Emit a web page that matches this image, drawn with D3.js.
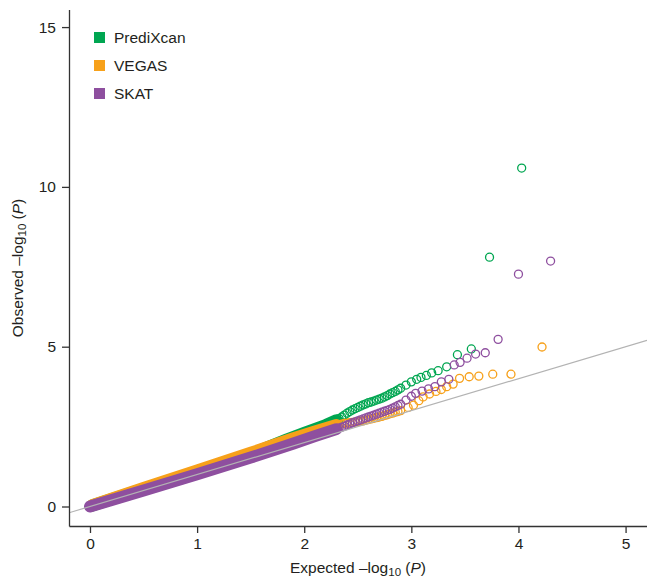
<!DOCTYPE html>
<html>
<head>
<meta charset="utf-8">
<script src="https://cdn.jsdelivr.net/npm/d3@7"></script>
<style>
  body { margin: 0; background: #fff; }
  svg text { font-family: "Liberation Sans", Arial, Helvetica, sans-serif; fill: #231f20; }
</style>
</head>
<body>
<div id="chart"></div>
<script>
const width = 647, height = 579;

// ---- data: [expected, observed] in -log10(P) ----
const seriesNames = ["PrediXcan", "VEGAS", "SKAT"];
const seriesColors = ["#00a651", "#f7a11a", "#8e4f9f"];

// dense lower part of each curve (drawn as a solid band of points)
const greenBulk = [[0.02, 0.03], [0.5, 0.56], [1.0, 1.1], [1.5, 1.64], [1.84, 2.1], [2.0, 2.3], [2.2, 2.55], [2.3, 2.7]];
const orangeBulk = [[0.02, 0.04], [0.5, 0.58], [1.0, 1.13], [1.5, 1.68], [1.9, 2.14], [2.1, 2.35], [2.3, 2.55]];
const purpleBulk = [[0, 0], [0.5, 0.5], [1.0, 1.01], [1.5, 1.53], [1.9, 1.97], [2.1, 2.2], [2.3, 2.42]];

// upper tail, individual open circles
const greenTail = [[2.300, 2.70], [2.325, 2.75], [2.350, 2.80], [2.375, 2.86], [2.400, 2.92], [2.425, 2.97],
  [2.450, 3.02], [2.475, 3.06], [2.500, 3.10], [2.525, 3.14], [2.550, 3.18], [2.575, 3.21], [2.600, 3.25],
  [2.625, 3.27], [2.650, 3.30], [2.675, 3.33], [2.700, 3.36], [2.725, 3.39], [2.750, 3.43], [2.775, 3.47],
  [2.800, 3.52], [2.825, 3.56], [2.850, 3.60], [2.875, 3.65], [2.900, 3.70], [2.95, 3.80], [3.00, 3.90],
  [3.05, 3.98], [3.09, 4.04], [3.14, 4.10], [3.19, 4.18], [3.25, 4.25], [3.33, 4.37], [3.43, 4.75], [3.56, 4.93],
  [3.73, 7.80], [4.03, 10.59]];
const orangeTail = [[2.300, 2.55], [2.325, 2.56], [2.350, 2.58], [2.375, 2.60], [2.400, 2.61], [2.425, 2.62],
  [2.450, 2.63], [2.475, 2.64], [2.500, 2.65], [2.525, 2.67], [2.550, 2.68], [2.575, 2.70], [2.600, 2.72],
  [2.625, 2.74], [2.650, 2.76], [2.675, 2.78], [2.700, 2.80], [2.725, 2.82], [2.750, 2.85], [2.775, 2.87],
  [2.800, 2.90], [2.825, 2.92], [2.850, 2.95], [2.875, 2.97], [2.900, 3.00], [2.97, 3.10], [3.02, 3.17],
  [3.07, 3.31], [3.11, 3.43], [3.17, 3.52], [3.23, 3.60], [3.28, 3.66], [3.33, 3.75], [3.39, 3.83], [3.45, 4.01],
  [3.54, 4.06], [3.63, 4.08], [3.76, 4.14], [3.93, 4.14], [4.22, 4.99]];
const purpleTail = [[2.300, 2.42], [2.325, 2.45], [2.350, 2.48], [2.375, 2.51], [2.400, 2.55], [2.425, 2.58],
  [2.450, 2.62], [2.475, 2.65], [2.500, 2.68], [2.525, 2.71], [2.550, 2.74], [2.575, 2.77], [2.600, 2.80],
  [2.625, 2.83], [2.650, 2.86], [2.675, 2.89], [2.700, 2.92], [2.725, 2.95], [2.750, 2.98], [2.775, 3.01],
  [2.800, 3.04], [2.825, 3.08], [2.850, 3.12], [2.875, 3.16], [2.900, 3.20], [2.95, 3.33], [3.00, 3.45],
  [3.04, 3.54], [3.10, 3.61], [3.16, 3.68], [3.22, 3.75], [3.28, 3.90], [3.35, 3.98], [3.40, 4.43], [3.455, 4.51],
  [3.52, 4.64], [3.60, 4.77], [3.69, 4.81], [3.81, 5.23], [4.00, 7.27], [4.30, 7.68]];

const xTicks = [0, 1, 2, 3, 4, 5];
const yTicks = [0, 5, 10, 15];

const svg = d3.select("#chart").append("svg")
  .attr("width", width)
  .attr("height", height);

// =========================
// SCALES
// =========================
const x = d3.scaleLinear().domain([-0.196, 5.2]).range([69, 647]);
const y = d3.scaleLinear().domain([-0.61, 15.55]).range([526, 9.5]);

svg.append("clipPath").attr("id", "plot-clip")
  .append("rect").attr("x", 69).attr("y", 9.5).attr("width", 647 - 69).attr("height", 526 - 9.5);

const plot = svg.append("g").attr("clip-path", "url(#plot-clip)");

// =========================
// POINTS
// =========================
const line = d3.line().x(d => x(d[0])).y(d => y(d[1]));
const bulks = [greenBulk, orangeBulk, purpleBulk];
const tails = [greenTail, orangeTail, purpleTail];

bulks.forEach((pts, i) => {
  plot.append("path")
    .attr("d", line(pts))
    .attr("fill", "none")
    .attr("stroke", seriesColors[i])
    .attr("stroke-width", 12)
    .attr("stroke-linecap", "round")
    .attr("stroke-linejoin", "round");

  plot.append("g").selectAll("circle")
    .data(tails[i])
    .enter()
    .append("circle")
    .attr("cx", d => x(d[0]))
    .attr("cy", d => y(d[1]))
    .attr("r", 4)
    .attr("fill", "none")
    .attr("stroke", seriesColors[i])
    .attr("stroke-width", 1.3);
});

// null line y = x
plot.append("line")
  .attr("x1", x(-0.196)).attr("y1", y(-0.196))
  .attr("x2", x(5.2)).attr("y2", y(5.2))
  .attr("stroke", "#b3b3b3")
  .attr("stroke-width", 1.2);

// =========================
// AXES
// =========================
const xAxis = svg.append("g")
  .attr("transform", "translate(0,526)")
  .call(d3.axisBottom(x).tickValues(xTicks).tickFormat(d3.format("d"))
    .tickSize(7).tickSizeOuter(0).tickPadding(5));

const yAxis = svg.append("g")
  .attr("transform", "translate(69,0)")
  .call(d3.axisLeft(y).tickValues(yTicks).tickFormat(d3.format("d"))
    .tickSize(7).tickSizeOuter(0).tickPadding(6));

[xAxis, yAxis].forEach(a => {
  a.selectAll("path, line").attr("stroke", "#333").attr("stroke-width", 1.3);
  a.selectAll("text").style("font-size", "15.5px").style("fill", "#231f20");
});

function axisTitle(sel, label) {
  sel.append("tspan").text(label + " \u2013log");
  sel.append("tspan").attr("baseline-shift", "-25%").style("font-size", "11.5px").text("10");
  sel.append("tspan").text(" (");
  sel.append("tspan").style("font-style", "italic").text("P");
  sel.append("tspan").text(")");
}

svg.append("text")
  .attr("x", 358).attr("y", 573)
  .attr("text-anchor", "middle")
  .style("font-size", "15.5px")
  .call(axisTitle, "Expected");

svg.append("text")
  .attr("transform", "translate(23,268) rotate(-90)")
  .attr("text-anchor", "middle")
  .style("font-size", "15.5px")
  .call(axisTitle, "Observed");

// =========================
// LEGEND
// =========================
const legend = svg.append("g").attr("transform", "translate(94,32)");
seriesNames.forEach((name, i) => {
  const g = legend.append("g").attr("transform", `translate(0, ${i * 28})`);
  g.append("rect")
    .attr("width", 11).attr("height", 11)
    .attr("fill", seriesColors[i]);
  g.append("text")
    .attr("x", 20).attr("y", 11)
    .style("font-size", "15.5px")
    .text(name);
});
</script>
</body>
</html>
